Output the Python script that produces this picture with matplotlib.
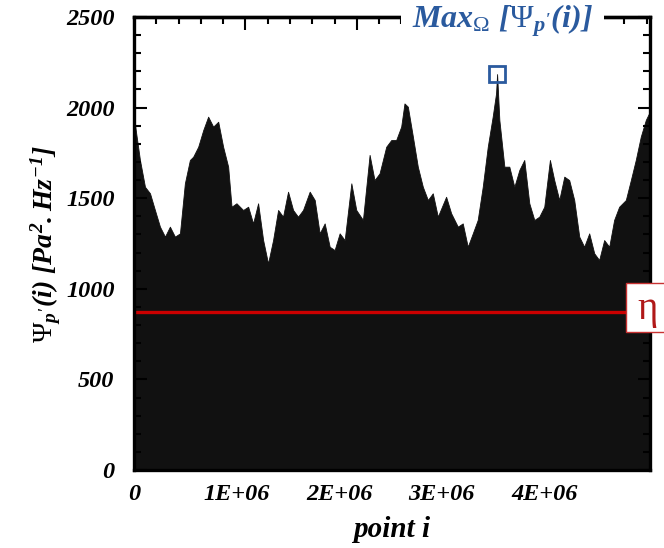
import matplotlib
matplotlib.use("Agg")
import matplotlib.pyplot as plt
import matplotlib.ticker as mticker
from matplotlib.patches import Rectangle
import numpy as np

plt.rcParams["mathtext.fontset"] = "custom"
plt.rcParams["mathtext.rm"] = "Liberation Serif:bold:italic"
plt.rcParams["mathtext.it"] = "Liberation Serif:bold:italic"
plt.rcParams["mathtext.bf"] = "Liberation Serif:bold:italic"
plt.rcParams["mathtext.sf"] = "Liberation Serif"

# upper envelope of the spectral-density cloud (x in 1e6 points)
point_i = [0.000, 0.010, 0.058, 0.107, 0.156, 0.204, 0.253, 0.302, 0.350, 0.399, 0.448,
           0.496, 0.545, 0.577, 0.626, 0.675, 0.723, 0.772, 0.821, 0.869, 0.918,
           0.951, 0.999, 1.064, 1.113, 1.161, 1.210, 1.259, 1.307, 1.356, 1.405,
           1.453, 1.502, 1.551, 1.599, 1.648, 1.713, 1.762, 1.810, 1.859, 1.908,
           1.956, 2.005, 2.054, 2.119, 2.167, 2.232, 2.297, 2.345, 2.394, 2.459,
           2.508, 2.556, 2.605, 2.637, 2.670, 2.719, 2.767, 2.816, 2.865, 2.913,
           2.962, 3.043, 3.092, 3.157, 3.205, 3.254, 3.303, 3.351, 3.400, 3.449,
           3.497, 3.530, 3.540, 3.562, 3.611, 3.659, 3.708, 3.757, 3.805, 3.854,
           3.903, 3.951, 4.000, 4.055, 4.097, 4.146, 4.195, 4.243, 4.292, 4.341,
           4.389, 4.438, 4.487, 4.535, 4.584, 4.633, 4.681, 4.730, 4.795, 4.844,
           4.892, 4.941, 4.990, 5.022]
psi_env = [1910, 1904, 1711, 1563, 1527, 1435, 1343, 1288, 1343, 1288, 1306,
           1582, 1711, 1729, 1784, 1876, 1950, 1895, 1922, 1784, 1674,
           1453, 1472, 1435, 1453, 1361, 1472, 1269, 1140, 1269, 1435,
           1398, 1536, 1435, 1398, 1435, 1536, 1490, 1306, 1361, 1232,
           1214, 1306, 1269, 1582, 1435, 1380, 1739, 1600, 1637, 1784,
           1821, 1821, 1895, 2023, 2005, 1840, 1674, 1563, 1490, 1527,
           1398, 1508, 1417, 1343, 1361, 1232, 1306, 1380, 1563, 1784,
           1950, 2079, 2185, 1932, 1674, 1674, 1563, 1656, 1711, 1472,
           1380, 1398, 1453, 1711, 1600, 1490, 1619, 1600, 1490, 1288,
           1232, 1306, 1196, 1159, 1269, 1232, 1380, 1453, 1490, 1600,
           1711, 1840, 1932, 1969]
eta = 872

x = np.array(point_i) * 1e6
y = np.array(psi_env)
i_max = int(np.argmax(y))

fig = plt.figure(figsize=(6.64, 5.48), dpi=100)
ax = fig.add_axes([0.2018, 0.1423, 0.7770, 0.8267])

ax.fill_between(x, 0, y, color="#111111", lw=0.6, edgecolor="#111111", zorder=1)
ax.axhline(eta, color="#cc0000", lw=2.4, zorder=2)
ax.plot(x[i_max], y[i_max], "s", ms=11, mfc="none", mec="#2a5a9e", mew=2, zorder=3)

ax.set_xlim(0, 5.03e6)
ax.set_ylim(0, 2500)
ax.set_xticks([0, 1e6, 2e6, 3e6, 4e6])
ax.set_xticklabels(["0", "1E+06", "2E+06", "3E+06", "4E+06"])
ax.set_yticks([0, 500, 1000, 1500, 2000, 2500])
ax.yaxis.set_minor_locator(mticker.MultipleLocator(100))
ax.tick_params(axis="y", which="both", direction="in", left=True, right=True,
               width=1.5, pad=14)
ax.tick_params(axis="y", which="major", length=9)
ax.tick_params(axis="y", which="minor", length=5)
ax.tick_params(axis="x", direction="in", length=0, pad=10)
for lab in ax.get_xticklabels() + ax.get_yticklabels():
    lab.set_fontfamily("Liberation Serif")
    lab.set_fontstyle("italic")
    lab.set_fontweight("bold")
    lab.set_fontsize(17.5)
for s in ax.spines.values():
    s.set_linewidth(2.4)

ax.set_xlabel("point i", family="Liberation Serif", style="italic",
              weight="bold", fontsize=21, labelpad=8)
ax.set_ylabel(r"$\mathsf{\Psi}_{p^{\prime}}(i)\ [Pa^{2}.Hz^{-1}]$", fontsize=20,
              labelpad=2)

# decorative top scale
top = ax.twiny()
top.set_xlim(0, 4.63)
top.xaxis.set_major_locator(mticker.MultipleLocator(1))
top.xaxis.set_minor_locator(mticker.MultipleLocator(0.2))
top.tick_params(axis="x", which="both", direction="in", width=1.5, labeltop=False)
top.tick_params(axis="x", which="major", length=9)
top.tick_params(axis="x", which="minor", length=5)
for side in ["left", "right", "bottom"]:
    top.spines[side].set_visible(False)
top.spines["top"].set_linewidth(2.4)

fig.text(0.757, 0.962, r"$Max_{\mathsf{\Omega}}\ [\mathsf{\Psi}_{p^{\prime}}(i)]$",
         color="#2a5a9e", fontsize=23, ha="center", va="center",
         bbox=dict(facecolor="white", edgecolor="none", pad=8))

fig.patches.append(Rectangle((0.9428, 0.3942), 0.08, 0.0894, transform=fig.transFigure,
                             facecolor="white", edgecolor="#c83232", lw=1.0, zorder=5))
fig.text(0.975, 0.436, "η", color="#b01818", family="Liberation Serif",
         fontsize=28, ha="center", va="center", zorder=6)

fig.savefig("out.png", dpi=100)
